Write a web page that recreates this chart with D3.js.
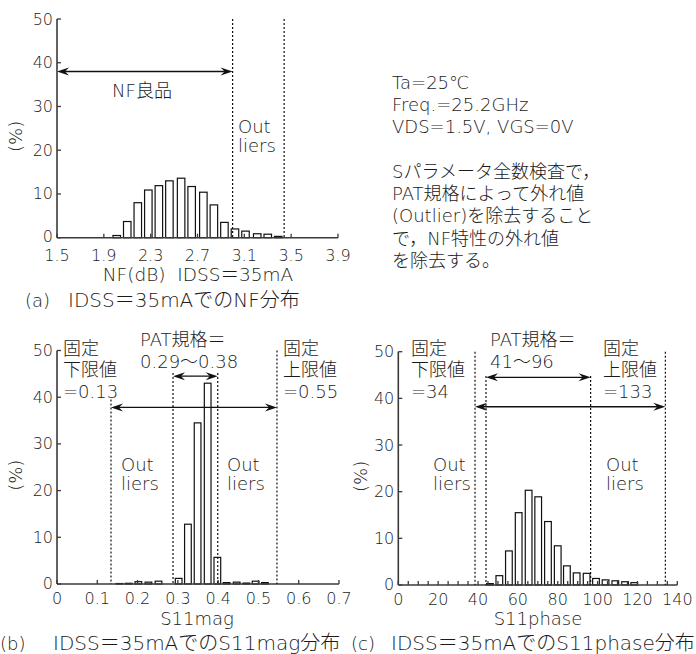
<!DOCTYPE html>
<html lang="ja">
<head>
<meta charset="utf-8">
<script src="https://cdn.jsdelivr.net/npm/d3@7"></script>
<style>
  html, body { margin: 0; padding: 0; background: #fff; }
  svg { display: block; }
  text { font-family: "DejaVu Sans", "Noto Sans CJK JP", sans-serif; fill: #1a1a1a; font-weight: 300; }
</style>
</head>
<body>
<div id="chart"></div>
<script>
// (a) NF histogram
const nfBins = [2.01, 2.10, 2.19, 2.28, 2.37, 2.46, 2.56, 2.65, 2.75, 2.84, 2.93, 3.02, 3.11, 3.21, 3.30, 3.39];
const nfPct = [0.5, 3.7, 8.0, 10.9, 11.9, 13.0, 13.6, 11.7, 10.4, 7.5, 3.5, 2.0, 1.5, 0.9, 0.8, 0.3];
const nfTicks = [1.5, 1.9, 2.3, 2.7, 3.1, 3.5, 3.9];
const nfLimits = [3.0, 3.44];

// (b) S11mag histogram
const magBins = [0.155, 0.178, 0.202, 0.227, 0.252, 0.302, 0.325, 0.349, 0.374, 0.398, 0.421, 0.446, 0.470, 0.493, 0.516];
const magPct = [0.1, 0.15, 0.5, 0.4, 0.6, 1.2, 12.8, 34.5, 43.0, 5.7, 0.3, 0.4, 0.2, 0.6, 0.3];
const magTicks = [0, 0.1, 0.2, 0.3, 0.4, 0.5, 0.6, 0.7];
const magFixed = [0.134, 0.546];
const magPat = [0.288, 0.399];

// (c) S11phase histogram
const phaseBins = [46, 50.7, 55.5, 60.4, 65.4, 70.2, 75.1, 80, 84.6, 89.5, 94.5, 99.2, 104, 108.9, 113.8, 118.4];
const phasePct = [0.3, 2.0, 7.3, 15.5, 20.3, 18.9, 13.6, 8.4, 4.1, 2.6, 2.5, 1.4, 1.1, 0.9, 0.7, 0.5];
const phaseTicks = [0, 20, 40, 60, 80, 100, 120, 140];
const phaseMinor = d3.range(0, 141, 5);
const phaseFixed = [38.5, 134];
const phasePat = [44, 96.5];

const yTicks = [0, 10, 20, 30, 40, 50];

const conditions = ["Ta=25℃", "Freq.=25.2GHz", "VDS=1.5V, VGS=0V", "", "Sパラメータ全数検査で，", "PAT規格によって外れ値", "(Outlier)を除去すること", "で，NF特性の外れ値", "を除去する。"];

const W = 696, H = 654;
const svg = d3.select("#chart").append("svg").attr("width", W).attr("height", H);

function arrowHead(g, x, y, dir) {
  // dir = 1 points right, -1 points left
  g.append("path")
    .attr("d", `M${x},${y} L${x - dir * 12},${y - 4} L${x - dir * 8},${y} L${x - dir * 12},${y + 4} Z`)
    .attr("fill", "#111");
}

function doubleArrow(g, x0, x1, y) {
  g.append("line").attr("x1", x0 + 4).attr("x2", x1 - 4).attr("y1", y).attr("y2", y)
    .attr("stroke", "#111").attr("stroke-width", 1.3);
  arrowHead(g, x0, y, -1);
  arrowHead(g, x1, y, 1);
}

function dashed(g, x, yTop, yBot) {
  g.append("line").attr("x1", x).attr("x2", x).attr("y1", yTop).attr("y2", yBot)
    .attr("stroke", "#111").attr("stroke-width", 1.2).attr("stroke-dasharray", "2,2");
}

function panel({ xDomain, xRange, yRange, bins, pct, barW, ticks, minor, fmt, labelY, ylabX }) {
  const g = svg.append("g");
  const x = d3.scaleLinear().domain(xDomain).range(xRange);
  const y = d3.scaleLinear().domain([0, 50]).range(yRange);

  // bars
  g.selectAll("rect.bar")
    .data(bins.map((b, i) => ({ b, v: pct[i] })))
    .join("rect")
    .attr("class", "bar")
    .attr("x", (d) => x(d.b) - barW / 2)
    .attr("width", barW)
    .attr("y", (d) => y(d.v))
    .attr("height", (d) => y(0) - y(d.v))
    .attr("fill", "#fff")
    .attr("stroke", "#111")
    .attr("stroke-width", 1.2);

  // axes
  const axisCol = "#3a3a3a";
  g.append("line").attr("x1", xRange[0]).attr("x2", xRange[1]).attr("y1", y(0)).attr("y2", y(0))
    .attr("stroke", axisCol).attr("stroke-width", 1.6);
  g.append("line").attr("x1", xRange[0]).attr("x2", xRange[0]).attr("y1", y(0)).attr("y2", y(50))
    .attr("stroke", axisCol).attr("stroke-width", 1.6);

  g.selectAll("line.xt").data(minor || ticks).join("line").attr("class", "xt")
    .attr("x1", (d) => x(d)).attr("x2", (d) => x(d)).attr("y1", y(0)).attr("y2", y(0) - 4)
    .attr("stroke", axisCol).attr("stroke-width", 1.3);
  g.selectAll("line.yt").data(yTicks).join("line").attr("class", "yt")
    .attr("x1", xRange[0]).attr("x2", xRange[0] + 4).attr("y1", (d) => y(d)).attr("y2", (d) => y(d))
    .attr("stroke", axisCol).attr("stroke-width", 1.3);

  g.selectAll("text.xl").data(ticks).join("text").attr("class", "xl")
    .attr("x", (d) => x(d)).attr("y", labelY)
    .attr("text-anchor", "middle").attr("dominant-baseline", "central")
    .attr("font-size", 16).text(fmt);
  g.selectAll("text.yl").data(yTicks).join("text").attr("class", "yl")
    .attr("x", xRange[0] - 4).attr("y", (d) => y(d) - (d === 0 ? 1 : 0))
    .attr("text-anchor", "end").attr("dominant-baseline", "central")
    .attr("font-size", 16).text((d) => d);

  g.append("text")
    .attr("transform", `translate(${ylabX},${(y(0) + y(50)) / 2 + 8}) rotate(-90)`)
    .attr("text-anchor", "middle").attr("dominant-baseline", "central")
    .attr("font-size", 18).text("(%)");

  return { g, x, y };
}

function label(lines, x, y0, anchor = "start", size = 18, step = 22) {
  lines.forEach((t, i) => {
    svg.append("text").attr("x", x).attr("y", y0 + i * step)
      .attr("text-anchor", anchor).attr("dominant-baseline", "central")
      .attr("font-size", size).text(t);
  });
}

// ---- (a)
const a = panel({
  xDomain: [1.5, 3.9], xRange: [57, 338], yRange: [237.7, 19],
  bins: nfBins, pct: nfPct, barW: 7.5, ticks: nfTicks, fmt: d3.format(".1f"), labelY: 255.5, ylabX: 15,
});
nfLimits.forEach((v) => dashed(a.g, a.x(v), a.y(50), a.y(0)));
doubleArrow(a.g, a.x(1.5), a.x(nfLimits[0]), a.y(38));
label(["NF良品"], 142, 90, "middle");
label(["Out", "liers"], 238, 126, "start", 18, 19.5);
svg.append("text").attr("x", 198).attr("y", 274).attr("text-anchor", "middle").attr("dominant-baseline", "central")
  .attr("font-size", 18.5).attr("xml:space", "preserve").text("NF(dB)  IDSS＝35mA");
label(["(a)"], 25, 300, "start", 18);
label(["IDSS＝35mAでのNF分布"], 68, 300, "start", 20);

// ---- conditions text
label(conditions, 392, 82, "start", 18, 22.3);

// ---- (b)
const b = panel({
  xDomain: [0, 0.7], xRange: [57, 339], yRange: [584, 350.5],
  bins: magBins, pct: magPct, barW: 6.7, ticks: magTicks, fmt: (d) => (d === 0 ? "0" : d3.format(".1f")(d)), labelY: 598, ylabX: 15,
});
dashed(b.g, b.x(magFixed[0]), b.y(39.5), b.y(0));
dashed(b.g, b.x(magFixed[1]), b.y(50), b.y(0));
magPat.forEach((v) => dashed(b.g, b.x(v), b.y(45.2), b.y(0)));
doubleArrow(b.g, b.x(magFixed[0]), b.x(magFixed[1]), b.y(37.8));
doubleArrow(b.g, b.x(magPat[0]), b.x(magPat[1]), b.y(44.5));
label(["固定", "下限値", "=0.13"], 63, 348, "start", 18, 21.8);
label(["固定", "上限値", "=0.55"], 283, 348, "start", 18, 21.8);
label(["PAT規格＝", "0.29〜0.38"], 140, 339, "start", 18, 22.5);
label(["Out", "liers"], 121, 464, "start", 18, 19.5);
label(["Out", "liers"], 227, 464, "start", 18, 19.5);
label(["S11mag"], 197, 618, "middle", 18);
label(["(b)"], 0, 643, "start", 18);
label(["IDSS＝35mAでのS11mag分布"], 53, 643, "start", 20);

// ---- (c)
const c = panel({
  xDomain: [0, 140], xRange: [398.3, 677.3], yRange: [585, 351.7],
  bins: phaseBins, pct: phasePct, barW: 6.7, ticks: phaseTicks, minor: phaseMinor, fmt: (d) => d, labelY: 599, ylabX: 360,
});
phaseFixed.forEach((v) => dashed(c.g, c.x(v), c.y(50), c.y(0)));
phasePat.forEach((v) => dashed(c.g, c.x(v), c.y(44.8), c.y(0)));
doubleArrow(c.g, c.x(phaseFixed[0]), c.x(phaseFixed[1]), c.y(38.2));
doubleArrow(c.g, c.x(phasePat[0]), c.x(phasePat[1]), c.y(44.5));
label(["固定", "下限値", "=34"], 411, 348, "start", 18, 21.8);
label(["固定", "上限値", "=133"], 603, 348, "start", 18, 21.8);
label(["PAT規格＝", "41〜96"], 490, 339, "start", 18, 22.5);
label(["Out", "liers"], 433, 464, "start", 18, 19.5);
label(["Out", "liers"], 606, 464, "start", 18, 19.5);
label(["S11phase"], 538, 618, "middle", 18);
label(["(c)"], 351, 643, "start", 18);
label(["IDSS＝35mAでのS11phase分布"], 391, 643, "start", 20);
</script>
</body>
</html>
